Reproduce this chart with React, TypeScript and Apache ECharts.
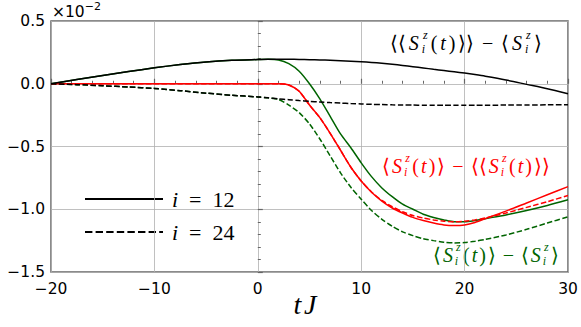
import React, { useEffect, useRef } from "react";
import * as echarts from "echarts";

// time axis (tJ)
const T = [-20, -17.5, -15, -12.5, -10, -7.5, -5, -2.5, 0, 1, 2, 3, 4, 5, 6, 7, 8, 9, 10, 11, 12, 13, 14, 15, 16, 17, 18, 19, 20, 21, 22, 24, 26, 28, 30];

// values in units of 1e-2
const blackSolid12 = [0, 0.033, 0.065, 0.097, 0.127, 0.153, 0.174, 0.187, 0.193, 0.195, 0.195, 0.195, 0.194, 0.192, 0.19, 0.187, 0.183, 0.179, 0.175, 0.17, 0.163, 0.155, 0.146, 0.136, 0.126, 0.115, 0.105, 0.095, 0.085, 0.073, 0.06, 0.03, -0.005, -0.04, -0.08];
const blackDashed24 = [0, -0.007, -0.016, -0.026, -0.037, -0.055, -0.075, -0.092, -0.105, -0.112, -0.12, -0.127, -0.134, -0.14, -0.145, -0.15, -0.154, -0.158, -0.161, -0.164, -0.166, -0.168, -0.169, -0.17, -0.171, -0.171, -0.172, -0.172, -0.172, -0.172, -0.171, -0.17, -0.169, -0.168, -0.167];
const redSolid12 = [0, 0, 0, 0, 0, 0, 0, 0, 0, 0, 0, -0.01, -0.06, -0.17, -0.27, -0.395, -0.53, -0.665, -0.775, -0.865, -0.935, -0.99, -1.03, -1.065, -1.09, -1.11, -1.125, -1.13, -1.125, -1.105, -1.075, -1.015, -0.95, -0.885, -0.82];
const redDashed24 = [0, 0, 0, 0, 0, 0, 0, 0, 0, 0, 0, -0.01, -0.06, -0.17, -0.27, -0.395, -0.53, -0.665, -0.775, -0.862, -0.93, -0.98, -1.02, -1.05, -1.07, -1.085, -1.095, -1.1, -1.095, -1.085, -1.07, -1.03, -0.985, -0.94, -0.89];
const greenSolid12 = [0, 0.033, 0.065, 0.097, 0.127, 0.153, 0.174, 0.187, 0.193, 0.195, 0.19, 0.16, 0.1, 0.0, -0.12, -0.26, -0.4, -0.51, -0.63, -0.74, -0.83, -0.9, -0.96, -1.0, -1.04, -1.065, -1.085, -1.1, -1.1, -1.09, -1.075, -1.045, -1.01, -0.97, -0.925];
const greenDashed24 = [0, -0.007, -0.016, -0.026, -0.037, -0.055, -0.075, -0.092, -0.105, -0.112, -0.125, -0.17, -0.23, -0.32, -0.44, -0.575, -0.71, -0.825, -0.92, -1.01, -1.08, -1.135, -1.18, -1.21, -1.235, -1.25, -1.262, -1.268, -1.265, -1.255, -1.24, -1.205, -1.16, -1.11, -1.06];

const legendLabels = ["i = 12", "i = 24"];
const BLACK = "#000000";
const RED = "#ff0000";
const GREEN = "#006400";

const SERIF = "Liberation Serif";
const SANS = "DejaVu Sans";

type Tok = ["u" | "i", string] | ["ss", string, string];

let ctx: CanvasRenderingContext2D | null = null;
function measure(text: string, size: number, italic: boolean, family = SERIF) {
  if (!ctx) ctx = document.createElement("canvas").getContext("2d");
  ctx!.font = `${italic ? "italic " : ""}${size}px ${family}`;
  return ctx!.measureText(text).width;
}

// cy is the vertical centre of the text line
function txt(text: string, x: number, cy: number, size: number, italic: boolean, color: string, family = SERIF) {
  return {
    type: "text",
    x,
    y: cy - size / 2,
    style: {
      text,
      fontSize: size,
      fontFamily: family,
      fontStyle: italic ? "italic" : "normal",
      fill: color,
    },
  };
}

// lays out a small formula; if target width is given, extra room is spread between tokens
function mathText(toks: Tok[], x: number, cy: number, size: number, color: string, align: "left" | "center" = "center", target = 0) {
  const ss = Math.round(size * 0.62);
  const widths = toks.map((t) =>
    t[0] === "ss" ? Math.max(measure(t[1], ss, true), measure(t[2], ss, true)) + size * 0.08 : measure(t[1], size, t[0] === "i")
  );
  let total = widths.reduce((a, b) => a + b, 0);
  let gap = 0;
  if (target > total && toks.length > 1) {
    gap = (target - total) / (toks.length - 1);
    total = target;
  }
  let cx = align === "center" ? x - total / 2 : x;
  const els: any[] = [];
  toks.forEach((t, k) => {
    if (t[0] === "ss") {
      els.push(txt(t[1], cx + size * 0.06, cy - size * 0.42, ss, true, color));
      els.push(txt(t[2], cx, cy + size * 0.3, ss, true, color));
    } else {
      els.push(txt(t[1], cx, cy, size, t[0] === "i", color));
    }
    cx += widths[k] + gap;
  });
  return els;
}

const pairs = (vals: number[]) => T.map((t, i) => [t, vals[i]]);
const fmt = (v: number, d: number) => v.toFixed(d).replace("-", "\u2212");

export default function App() {
  const ref = useRef<HTMLDivElement>(null);
  useEffect(() => {
    const chart = echarts.init(ref.current!, null, { renderer: "svg" });
    const lineSeries = (name: string, vals: number[], color: string, dashed: boolean, z: number) => ({
      name,
      type: "line",
      data: pairs(vals),
      showSymbol: false,
      smooth: 0.25,
      z,
      lineStyle: { color, width: 1.5, type: dashed ? [5.5, 2.4] : "solid" },
      itemStyle: { color },
      emphasis: { disabled: true },
    });

    const M = " \u2212 ";
    const blackAnn: Tok[] = [["u", "\u27E8\u27E8"], ["i", "S"], ["ss", "z", "i"], ["u", "("], ["i", "t"], ["u", ")"], ["u", "\u27E9\u27E9"], ["u", M], ["u", "\u27E8"], ["i", "S"], ["ss", "z", "i"], ["u", "\u27E9"]];
    const redAnn: Tok[] = [["u", "\u27E8"], ["i", "S"], ["ss", "z", "i"], ["u", "("], ["i", "t"], ["u", ")"], ["u", "\u27E9"], ["u", M], ["u", "\u27E8\u27E8"], ["i", "S"], ["ss", "z", "i"], ["u", "("], ["i", "t"], ["u", ")"], ["u", "\u27E9\u27E9"]];
    const greenAnn: Tok[] = [["u", "\u27E8"], ["i", "S"], ["ss", "z", "i"], ["u", "("], ["i", "t"], ["u", ")"], ["u", "\u27E9"], ["u", M], ["u", "\u27E8"], ["i", "S"], ["ss", "z", "i"], ["u", "\u27E9"]];

    const legTok = (s: string): Tok[] => {
      const [a, , b] = s.split(" ");
      return [["i", a], ["u", "\u2002=\u2002" + b]];
    };

    const offW = measure("\u00D710", 15.5, false, SANS);

    const graphics: any[] = [
      ...mathText(blackAnn, 466, 43, 20, BLACK, "center", 152),
      ...mathText(redAnn, 466, 166, 20, RED, "center", 168),
      ...mathText(greenAnn, 496, 255, 20, GREEN, "center", 126),
      ...mathText([["i", "t"], ["i", "J"]], 305, 304, 28, BLACK, "center", 23),
      txt("\u00D710", 52, 12, 15.5, false, BLACK, SANS),
      txt("\u22122", 52 + offW, 6, 11, false, BLACK, SANS),
      { type: "line", shape: { x1: 85, y1: 199, x2: 163, y2: 199 }, style: { stroke: BLACK, lineWidth: 2 } },
      { type: "line", shape: { x1: 85, y1: 232, x2: 163, y2: 232 }, style: { stroke: BLACK, lineWidth: 2, lineDash: [7.4, 3.2] } },
      ...mathText(legTok(legendLabels[0]), 172, 199, 22, BLACK, "left"),
      ...mathText(legTok(legendLabels[1]), 172, 232, 22, BLACK, "left"),
    ];

    const axisCommon = {
      type: "value",
      axisLine: { show: false },
      axisTick: { show: true, inside: true, length: 5, lineStyle: { color: "#666", width: 1.2 } },
      minorTick: { show: true, splitNumber: 5, length: 3, lineStyle: { color: "#666", width: 1 } },
      splitLine: { show: true, lineStyle: { color: "#b0b0b0", width: 0.8 } },
      minorSplitLine: { show: false },
    };

    chart.setOption({
      animation: false,
      backgroundColor: "#ffffff",
      grid: { left: 51, right: 13, top: 21, bottom: 55, show: true, borderColor: "#666", borderWidth: 1.5, backgroundColor: "transparent" },
      xAxis: {
        ...axisCommon,
        min: -20,
        max: 30,
        interval: 10,
        axisLabel: { formatter: (v: number) => fmt(v, 0), fontSize: 15.5, fontFamily: SANS, color: "#000", margin: 9 },
      },
      yAxis: {
        ...axisCommon,
        min: -1.5,
        max: 0.5,
        interval: 0.5,
        axisLabel: { formatter: (v: number) => fmt(v, 1), fontSize: 15.5, fontFamily: SANS, color: "#000", margin: 6 },
      },
      series: [
        lineSeries("gd24", greenDashed24, GREEN, true, 2),
        lineSeries("gs12", greenSolid12, GREEN, false, 2),
        lineSeries("rd24", redDashed24, RED, true, 3),
        lineSeries("rs12", redSolid12, RED, false, 3),
        lineSeries("bd24", blackDashed24, BLACK, true, 4),
        lineSeries("bs12", blackSolid12, BLACK, false, 4),
      ],
      graphic: graphics,
    });
    return () => chart.dispose();
  }, []);
  return <div ref={ref} style={{ position: "absolute", left: 0, top: 0, width: 581, height: 327 }} />;
}
